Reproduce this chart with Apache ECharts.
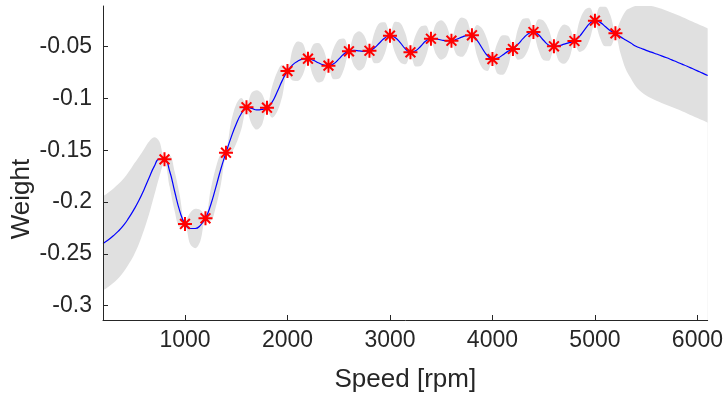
<!DOCTYPE html>
<html>
<head>
<meta charset="utf-8">
<script src="https://cdn.jsdelivr.net/npm/echarts@6/dist/echarts.min.js"></script>
<style>
html,body{margin:0;padding:0;background:#fff;}
#chart{width:726px;height:398px;}
</style>
</head>
<body>
<div id="chart"></div>
<script>
const speed = [200,250,300,350,400,450,500,550,600,650,700,750,800,850,900,950,1000,1050,1100,1150,1200,1250,1300,1350,1400,1450,1500,1550,1600,1650,1700,1750,1800,1850,1900,1950,2000,2050,2100,2150,2200,2250,2300,2350,2400,2450,2500,2550,2600,2650,2700,2750,2800,2850,2900,2950,3000,3050,3100,3150,3200,3250,3300,3350,3400,3450,3500,3550,3600,3650,3700,3750,3800,3850,3900,3950,4000,4050,4100,4150,4200,4250,4300,4350,4400,4450,4500,4550,4600,4650,4700,4750,4800,4850,4900,4950,5000,5050,5100,5150,5200,5250,5300,5350,5400,5450,5500,5550,5600,5650,5700,5750,5800,5850,5900,5950,6000,6050,6100];
// Fitted mean (blue line)
const meanWeight = [-0.240,-0.2365,-0.2325,-0.228,-0.2225,-0.2155,-0.2075,-0.1985,-0.188,-0.1765,-0.1655,-0.1585,-0.1587,
  -0.170,-0.190,-0.209,-0.2211,-0.2255,-0.2255,-0.2225,-0.2156,-0.203,-0.186,-0.168,-0.1523,
  -0.1375,-0.1245,-0.1145,-0.1085,-0.1095,-0.111,-0.1105,-0.1089,-0.1035,-0.0935,-0.0825,-0.0735,
  -0.0675,-0.0640,-0.0620,-0.0616,-0.0630,-0.0655,-0.0675,-0.0683,-0.0665,-0.0620,-0.0570,-0.0544,
  -0.0535,-0.0540,-0.0545,-0.0539,-0.0510,-0.0462,-0.0415,-0.0394,-0.0410,-0.0460,-0.0520,-0.0554,
  -0.0540,-0.0495,-0.0445,-0.0423,-0.0425,-0.0435,-0.0443,-0.0442,-0.0428,-0.0408,-0.0393,-0.0392,
  -0.0440,-0.0515,-0.0585,-0.0617,-0.0610,-0.0580,-0.0545,-0.0520,-0.0475,-0.0420,-0.0375,-0.0358,
  -0.0385,-0.0440,-0.0485,-0.0497,-0.0490,-0.0475,-0.0460,-0.0445,-0.0400,-0.0335,-0.0275,-0.0249,
  -0.0265,-0.0305,-0.0345,-0.0371,
  -0.0405,-0.0435,-0.0465,-0.0495,-0.0515,-0.0535,-0.0552,-0.0570,-0.0588,-0.0607,-0.0627,-0.0647,-0.0668,-0.0689,-0.0711,-0.0733,-0.0755,-0.0778];
// Half width of the grey confidence band around the mean
const bandHalfWidth = [0.0455,0.0455,0.0455,0.0455,0.045,0.0445,0.044,0.042,0.039,0.035,0.028,0.017,0.0025,
  0.015,0.019,0.015,0.0025, 0.015,0.019,0.015,0.0025, 0.015,0.019,0.015,0.0025, 0.015,0.019,0.015,0.0025,
  0.015,0.019,0.015,0.0025, 0.015,0.019,0.015,0.0025, 0.015,0.019,0.015,0.0025, 0.015,0.019,0.015,0.0025,
  0.015,0.019,0.015,0.0025, 0.015,0.019,0.015,0.0025, 0.015,0.019,0.015,0.0025, 0.015,0.019,0.015,0.0025,
  0.015,0.019,0.015,0.0025, 0.015,0.019,0.015,0.0025, 0.015,0.019,0.015,0.0025, 0.015,0.019,0.015,0.0025,
  0.015,0.019,0.015,0.0025, 0.015,0.019,0.015,0.0025, 0.015,0.019,0.015,0.0025, 0.015,0.019,0.015,0.0025,
  0.015,0.019,0.015,0.0025, 0.015,0.019,0.015,0.0025,
  0.016,0.028,0.034,0.039,0.042,0.0435,0.0445,0.0452,0.0455,0.0455,0.0455,0.0455,0.0455,0.0455,0.0455,0.0455,0.0455,0.0455];
// Measured samples (red asterisks)
const sampleSpeed = [800,1000,1200,1400,1600,1800,2000,2200,2400,2600,2800,3000,3200,3400,3600,3800,4000,4200,4400,4600,4800,5000,5200];
const sampleWeight = [-0.1587,-0.2211,-0.2156,-0.1523,-0.1085,-0.1089,-0.0735,-0.0616,-0.0683,-0.0544,-0.0539,-0.0394,-0.0554,-0.0423,-0.0442,-0.0390,-0.0619,-0.0522,-0.0358,-0.0496,-0.0445,-0.0249,-0.0371];
// Tick labels
const xTicks = [1000,2000,3000,4000,5000,6000];
const yTicks = [-0.3,-0.25,-0.2,-0.15,-0.1,-0.05];

const textColor = '#262626';
const font = 'Liberation Sans, Arial, Helvetica, sans-serif';
const bandGrey = '#e0e0e0';

const upperEdge = speed.map((x,i)=>[x, meanWeight[i] + bandHalfWidth[i]]);
const lowerEdge = speed.map((x,i)=>[x, meanWeight[i] - bandHalfWidth[i]]);

const chart = echarts.init(document.getElementById('chart'), null, {renderer:'canvas'});
const asterisk = 'path://M5,0L5,10M0,5L10,5M1.5,1.5L8.5,8.5M1.5,8.5L8.5,1.5';

chart.setOption({
  animation:false,
  backgroundColor:'#ffffff',
  grid:{left:103, right:16, top:6, bottom:78, containLabel:false},
  graphic:[{
    type:'text', x:22, y:199, rotation:Math.PI/2,
    style:{text:'Weight', fill:textColor, font:'26px ' + font, textAlign:'center', textVerticalAlign:'middle'}
  }],
  xAxis:{
    type:'value', min:200, max:6100, z:10,
    name:'Speed [rpm]', nameLocation:'middle', nameGap:47,
    nameTextStyle:{fontFamily:font, fontSize:26, color:textColor},
    axisLine:{show:true, onZero:false, lineStyle:{color:textColor, width:1}},
    axisTick:{show:true, inside:true, length:5, customValues:xTicks, lineStyle:{color:textColor}},
    axisLabel:{show:true, customValues:xTicks, margin:9, fontFamily:font, fontSize:23, color:textColor,
      formatter:function(v){return String(Math.round(v));}},
    splitLine:{show:false}
  },
  yAxis:{
    type:'value', min:-0.3138, max:-0.0107, z:10,
    axisLine:{show:true, onZero:false, lineStyle:{color:textColor, width:1}},
    axisTick:{show:true, inside:true, length:5, customValues:yTicks, lineStyle:{color:textColor}},
    axisLabel:{show:true, customValues:yTicks, margin:11, fontFamily:font, fontSize:23, color:textColor,
      formatter:function(v){return String(+v.toFixed(2));}},
    splitLine:{show:false}
  },
  series:[
    {
      // upper edge of band, filled grey down to the axis bottom
      type:'line', smooth:0.35, symbol:'none', silent:true,
      lineStyle:{width:0, opacity:0},
      areaStyle:{color:bandGrey, opacity:1, origin:'start'},
      data:upperEdge,
      z:1
    },
    {
      // lower edge of band, white below it (cuts the band out)
      type:'line', smooth:0.35, symbol:'none', silent:true,
      lineStyle:{width:0, opacity:0},
      areaStyle:{color:'#ffffff', opacity:1, origin:'start'},
      data:lowerEdge,
      z:1
    },
    {
      type:'line', smooth:0.5, symbol:'none',
      lineStyle:{color:'#0000ff', width:1.2},
      data:speed.map((x,i)=>[x, meanWeight[i]]),
      z:2
    },
    {
      type:'scatter', symbol:asterisk, symbolSize:14,
      itemStyle:{color:'#ff0000', borderColor:'#ff0000', borderWidth:2, opacity:1},
      data:sampleSpeed.map((x,i)=>[x, sampleWeight[i]]),
      z:3
    }
  ]
});
</script>
</body>
</html>
